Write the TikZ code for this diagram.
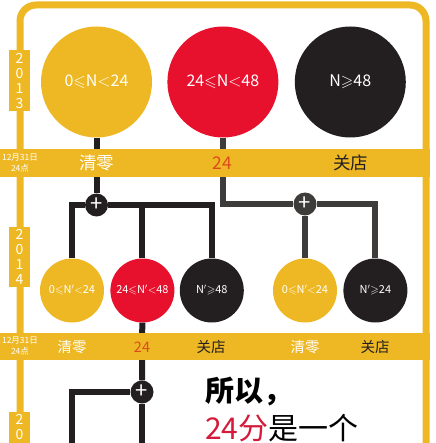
\documentclass[tikz,border=0pt]{standalone}
\usepackage{fontspec}
\usepackage{amssymb}
\setmainfont{Noto Sans CJK SC}
\usetikzlibrary{positioning, calc}
\definecolor{gold}{HTML}{EDB824}
\definecolor{scarlet}{HTML}{E8112D}
\definecolor{ink}{HTML}{231F20}
\definecolor{slate}{HTML}{3D3C3A}
\definecolor{tally}{HTML}{DD4A1C}
\definecolor{crimson}{HTML}{D41A3A}

\begin{document}
\begin{tikzpicture}[
    x=1pt, y=-1pt,
    align=center,
    bigcirc/.style={circle, minimum size=111pt, inner sep=0pt, text=white, font=\fontsize{16}{18}\selectfont},
    smallcirc/.style={circle, minimum size=64pt, inner sep=0pt, text=white, font=\fontsize{11}{13}\selectfont},
    low/.style={fill=gold},
    mid/.style={fill=scarlet},
    high/.style={fill=ink},
    plusdot/.style={circle, fill=ink, minimum size=23pt, inner sep=0pt, text=white, font=\fontsize{22}{22}\selectfont},
    conn/.style={line width=6pt, draw=ink},
    connalt/.style={line width=6pt, draw=slate},
    yeartxt/.style={text=white, inner sep=1pt, font=\fontsize{14}{15}\selectfont},
    datelbl/.style={text=white, inner sep=0pt, font=\fontsize{8.5}{10.5}\selectfont},
    bigtag/.style={font=\fontsize{17.5}{19}\selectfont},
    smalltag/.style={font=\fontsize{14.5}{16}\selectfont}
]
    \clip (0,0) rectangle (435,443);

    % =========================================================================
    % FRAME
    % =========================================================================
    \draw [gold, line width=7pt, rounded corners=16pt] (20,5) rectangle (426,480);

    % =========================================================================
    % 2013
    % =========================================================================
    \node (y1_low) [bigcirc, low] at (96.5,82) {0$\leqslant$N$<$24};
    \node (y1_mid) [bigcirc, mid, right=15pt of y1_low] {24$\leqslant$N$<$48};
    \node (y1_high) [bigcirc, high, right=16pt of y1_mid] {N$\geqslant$48};

    % =========================================================================
    % 2014
    % =========================================================================
    \node (y2_low) [smallcirc, low] at (72,290.5) {0$\leqslant$N$'$$<$24};
    \node (y2_mid) [smallcirc, mid, right=6pt of y2_low] {24$\leqslant$N$'$$<$48};
    \node (y2_high) [smallcirc, high, right=5pt of y2_mid] {N$'$$\geqslant$48};
    \node (y2_low_b) [smallcirc, low] at (305,290.5) {0$\leqslant$N$'$$<$24};
    \node (y2_high_b) [smallcirc, high, right=6pt of y2_low_b] {N$'$$\geqslant$24};

    % Junctions
    \node (plus_a) [plusdot] at (96.5,205) {+};
    \node (plus_b) [plusdot, fill=slate] at (305,204) {+};
    \node (plus_c) [plusdot] at (142,392) {+};
    \coordinate (end_left) at (72,460);
    \coordinate (end_mid) at (142,460);

    % Connections
    \draw [conn] (y1_low) -- (plus_a);
    \draw [conn] (y2_low.north) |- (plus_a);
    \draw [conn] (plus_a) -| (y2_high.north);
    \draw [conn] (y2_mid.north) -- (y2_mid.north |- plus_a);

    \draw [connalt] (y1_mid) |- (plus_b);
    \draw [connalt] (plus_b) -| (y2_high_b.north);
    \draw [connalt] (plus_b) -- (y2_low_b);

    \draw [conn] (y2_mid) -- (plus_c);
    \draw [conn] (plus_c) -| (end_left);
    \draw [conn] (plus_c) -- (end_mid);

    % =========================================================================
    % BANDS & YEARS
    % =========================================================================
    \fill [gold] (0,149) rectangle (430,177);
    \fill [gold] (0,333) rectangle (430,360);
    \fill [gold] (9,50) rectangle (30,111);
    \fill [gold] (9,227) rectangle (30,287);
    \fill [gold] (9,412) rectangle (30,480);

    \node (yr13) [yeartxt] at (19.5,81) {2\\0\\1\\3};
    \node (yr14) [yeartxt] at (19.5,257) {2\\0\\1\\4};
    \node (yr15) [yeartxt, anchor=north] at (19.5,413) {2\\0};

    \node (date1) [datelbl] at (20,163) {12月31日\\24点};
    \node (date2) [datelbl] at (20,346) {12月31日\\24点};

    \node (tag1_low) [bigtag, text=white] at (96.5,163) {清零};
    \node (tag1_mid) [bigtag, text=tally] at (222.5,163) {24};
    \node (tag1_high) [bigtag, text=ink] at (350.5,163) {关店};

    \node (tag2_low) [smalltag, text=white] at (72,347) {清零};
    \node (tag2_mid) [smalltag, text=tally] at (142,347) {24};
    \node (tag2_high) [smalltag, text=ink] at (211,347) {关店};
    \node (tag2_low_b) [smalltag, text=white] at (305,347) {清零};
    \node (tag2_high_b) [smalltag, text=ink] at (375,347) {关店};

    % Conclusion
    \node (concl1) [anchor=west, inner sep=0pt, font=\bfseries\fontsize{29}{31}\selectfont] at (205,392) {所以，};
    \node (concl2) [anchor=west, inner sep=0pt, font=\fontsize{30}{32}\selectfont] at (205,428) {\textcolor{crimson}{24分}是一个};

\end{tikzpicture}
\end{document}
